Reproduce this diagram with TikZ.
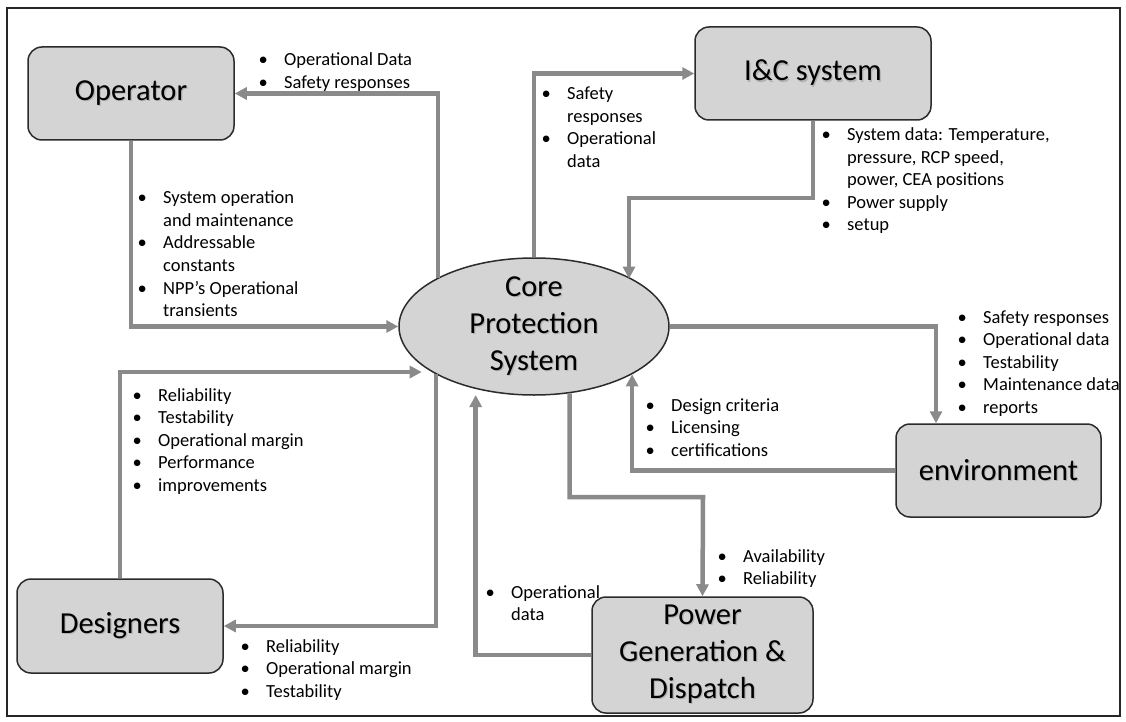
\documentclass[tikz,border=0pt]{standalone}
\usepackage{fontspec}
\setmainfont{Carlito}
\usetikzlibrary{arrows.meta,shapes.geometric,calc}
\definecolor{conn}{HTML}{8A8A8A}
\definecolor{boxfill}{HTML}{D4D4D4}
\definecolor{boxline}{HTML}{2B2B2B}
\newcommand{\shd}[1]{\makebox[0pt][l]{\kern1.2pt\raisebox{-1.2pt}{\textcolor{black!30}{#1}}}#1}
\newcommand{\blist}[1]{{\fontsize{18.5}{22.5}\selectfont\begin{tabular}[t]{@{}p{25.5pt}@{}l@{}}#1\end{tabular}}}
\begin{document}
\begin{tikzpicture}[x=1pt,y=-1pt,
  box/.style={draw=boxline,line width=1.5pt,fill=boxfill,rounded corners=14pt,align=center,
    font=\fontsize{30.5}{37}\selectfont,inner sep=0pt},
  flow/.style={draw=conn,line width=4.5pt,line join=miter,-{Triangle[length=12pt,width=12pt]}},
  lst/.style={anchor=base west,inner sep=0pt}]
\useasboundingbox (0,0) rectangle (1126,722);
\fill[white] (0,0) rectangle (1126,722);
\draw[line width=2pt,black!85] (7,8) rectangle (1120,716);

% nodes
\node[box,minimum width=206pt,minimum height=93pt] (op) at (131,93.5) {\shd{Operator}};
\node[box,minimum width=236pt,minimum height=93pt] (ic) at (813,73.5) {\shd{I\&C system}};
\node[box,minimum width=205pt,minimum height=93pt] (env) at (998.5,470.5) {\shd{environment}};
\node[box,minimum width=221pt,minimum height=116pt] (pw) at (702.5,655) {\shd{Power}\\\shd{Generation \&}\\\shd{Dispatch}};
\node[box,minimum width=206pt,minimum height=94pt] (des) at (120,626) {\shd{Designers}};
\node[ellipse,draw=boxline,line width=1.5pt,fill=boxfill,minimum width=270pt,minimum height=137pt,inner sep=0pt] (cps) at (534,326.5) {};
\node[align=center,font=\fontsize{30.5}{37}\selectfont,inner sep=0pt] (cpst) at (cps.center) {\shd{Core}\\\shd{Protection}\\\shd{System}};

% connectors
\coordinate (icb) at (629,198);
\coordinate (pwb) at (703,497);
\draw[flow] (cps.153.4) |- (op.east);
\draw[flow] (op.south) |- (cps.west);
\draw[flow] (cps.north) |- (ic.west);
\draw[flow] (ic.south) |- (icb) -- (icb |- cps.26.9);
\draw[flow] (cps.east) -| ([xshift=-62.5pt]env.north);
\draw[flow] (env.west) -| (cps.-26.9);
\draw[flow] (cps.-62.7) |- (pwb) -- (pw.north);
\draw[flow,shorten >=6pt] (pw.west) -| (cps.227.9);
\draw[flow,shorten >=10pt] (des.north) |- (cps.204.5);
\draw[flow] (cps.206.6) |- (des.east);

% labels
\node[lst] (l1) at (258.5,66) {\blist{\textbullet & Operational Data\\ \textbullet & Safety responses}};
\node[lst] (l2) at (137.5,204) {\blist{\textbullet & System operation\\ & and maintenance\\ \textbullet & Addressable\\ & constants\\ \textbullet & NPP’s Operational\\ & transients}};
\node[lst] (l3) at (541.5,100) {\blist{\textbullet & Safety\\ & responses\\ \textbullet & Operational\\ & data}};
\node[lst] (l4) at (821.5,141) {\blist{\textbullet & System data: Temperature,\\ & pressure, RCP speed,\\ & power, CEA positions\\ \textbullet & Power supply\\ \textbullet & setup}};
\node[lst] (l5) at (957.5,323) {\blist{\textbullet & Safety responses\\ \textbullet & Operational data\\ \textbullet & Testability\\ \textbullet & Maintenance data\\ \textbullet & reports}};
\node[lst] (l6) at (645.5,411) {\blist{\textbullet & Design criteria\\ \textbullet & Licensing\\ \textbullet & certifications}};
\node[lst] (l7) at (717.5,562) {\blist{\textbullet & Availability\\ \textbullet & Reliability}};
\node[lst] (l8) at (485.5,598) {\blist{\textbullet & Operational\\ & data}};
\node[lst] (l9) at (132.5,401) {\blist{\textbullet & Reliability\\ \textbullet & Testability\\ \textbullet & Operational margin\\ \textbullet & Performance\\ \textbullet & improvements}};
\node[lst] (l10) at (240.5,652) {\blist{\textbullet & Reliability\\ \textbullet & Operational margin\\ \textbullet & Testability}};
\end{tikzpicture}
\end{document}
